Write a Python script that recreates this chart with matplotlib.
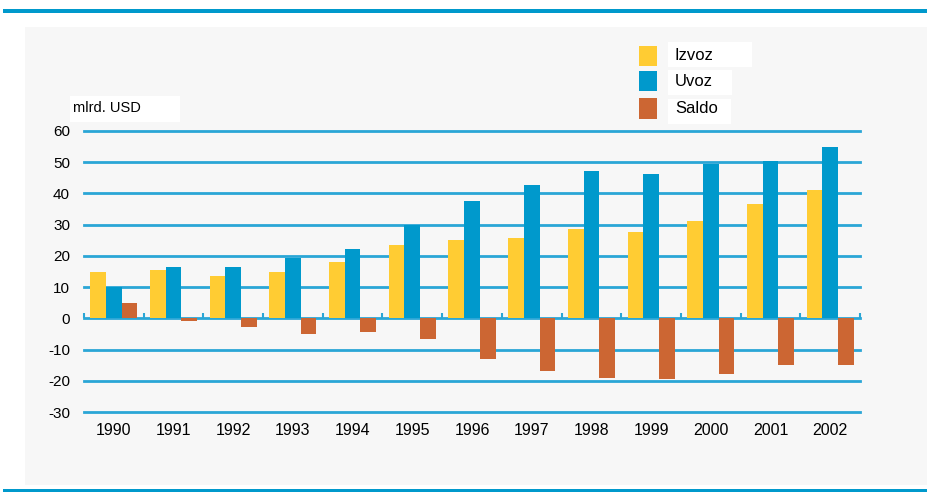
import matplotlib
matplotlib.use("Agg")
import matplotlib.pyplot as plt
from matplotlib.patches import Rectangle
import numpy as np

years = ["1990", "1991", "1992", "1993", "1994", "1995", "1996", "1997",
         "1998", "1999", "2000", "2001", "2002"]
izvoz = [14.8, 15.6, 13.4, 14.9, 17.9, 23.5, 25.1, 25.8, 28.7, 27.7, 31.2, 36.6, 41.0]
uvoz = [10.1, 16.3, 16.3, 19.2, 22.2, 29.8, 37.6, 42.7, 47.2, 46.1, 49.4, 50.5, 55.0]
saldo = [5.0, -0.8, -2.9, -5.0, -4.4, -6.7, -13.1, -16.9, -19.0, -19.3, -17.7, -14.8, -14.8]
series_names = ["Izvoz", "Uvoz", "Saldo"]
colors = ["#FFCC33", "#0099CC", "#CC6633"]
yticks = [-30, -20, -10, 0, 10, 20, 30, 40, 50, 60]
unit_label = "mlrd. USD"

W, H = 927, 494
fig = plt.figure(figsize=(W / 100, H / 100), dpi=100)
fig.patch.set_facecolor("white")
FONT = "Liberation Sans"

def fx(px):
    return px / W

def fy(py):
    return 1 - py / H

# gray panel
fig.patches.append(Rectangle((fx(25), fy(485)), fx(W - 25), (485 - 27) / H,
                             transform=fig.transFigure, facecolor="#F7F7F7",
                             edgecolor="none", zorder=-2))
# top & bottom blue rules
fig.patches.append(Rectangle((fx(3), fy(13)), fx(W - 3), 4 / H,
                             transform=fig.transFigure, facecolor="#0099CC",
                             edgecolor="none", zorder=-1))
fig.patches.append(Rectangle((fx(3), fy(492)), fx(W - 3), 3 / H,
                             transform=fig.transFigure, facecolor="#0099CC",
                             edgecolor="none", zorder=-1))

ax = fig.add_axes([fx(84), fy(412), fx(860 - 84), (412 - 131) / H])
ax.set_zorder(5)
ax.set_facecolor("none")
ax.set_xlim(-0.5, len(years) - 0.5)
ax.set_ylim(-30, 60)

for v in yticks:
    ax.axhline(v, color="#2AA6D6", lw=2, zorder=1, clip_on=False)

x = np.arange(len(years))
bw = 0.263
for i, (vals, c) in enumerate(zip([izvoz, uvoz, saldo], colors)):
    ax.bar(x + (i - 1) * bw, vals, width=bw, color=c, zorder=3, linewidth=0)

# small ticks on zero line at group boundaries
ax.vlines(np.arange(len(years) + 1) - 0.5, 0, 1.6, color="#2AA6D6", lw=1.5,
          zorder=2, clip_on=False)

for s in ax.spines.values():
    s.set_visible(False)
ax.set_yticks(yticks)
ax.set_yticklabels([str(v) for v in yticks], fontfamily=FONT, fontsize=11)
ax.set_xticks(x)
ax.set_xticklabels(years, fontfamily=FONT, fontsize=11.5)
ax.tick_params(axis="both", length=0)
ax.tick_params(axis="y", pad=10)
ax.tick_params(axis="x", pad=8)

# unit label
fig.patches.append(Rectangle((fx(70), fy(122)), fx(110), 26 / H,
                             transform=fig.transFigure, facecolor="white",
                             edgecolor="none", zorder=2))
fig.text(fx(73), fy(108), unit_label, fontfamily=FONT, fontsize=10.5,
         va="center", ha="left", zorder=3)

# legend
leg_rows = [(46, 66, 42, 67, 752), (71, 91, 70, 95, 732), (98, 119, 99, 124, 731)]
for name, c, (t, b, bt, bb, br) in zip(series_names, colors, leg_rows):
    fig.patches.append(Rectangle((fx(639), fy(b)), fx(18), (b - t) / H,
                                 transform=fig.transFigure, facecolor=c,
                                 edgecolor="none", zorder=2))
    fig.patches.append(Rectangle((fx(668), fy(bb)), fx(br - 668), (bb - bt) / H,
                                 transform=fig.transFigure, facecolor="white",
                                 edgecolor="none", zorder=2))
    fig.text(fx(675), fy((t + b) / 2), name, fontfamily=FONT, fontsize=12,
             va="center", ha="left", zorder=3)

fig.savefig("out.png", dpi=100)
